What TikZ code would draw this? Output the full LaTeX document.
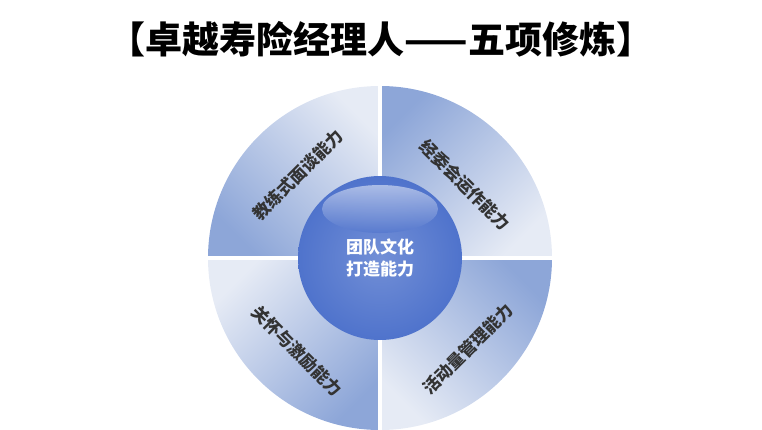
\documentclass[tikz,border=0pt]{standalone}
\usepackage{fontspec}
\newfontfamily\cjk{Noto Sans CJK SC}
\usetikzlibrary{positioning}
\definecolor{qdark}{HTML}{8DA6D8}
\definecolor{qlight}{HTML}{E6EBF5}
\definecolor{hubblue}{HTML}{4F73CC}
\tikzset{
  quadlabel/.style={font=\cjk\bfseries\fontsize{17}{17}\selectfont,text=black!80},
  hublabel/.style={font=\cjk\bfseries\fontsize{17}{22}\selectfont,text=white,align=center}
}
\begin{document}
\begin{tikzpicture}[x=1pt,y=1pt]
\useasboundingbox (0,0) rectangle (762,429);
%Title
\node[font=\cjk\bfseries\fontsize{37}{37}\selectfont] (title) at (381,390) {【卓越寿险经理人——五项修炼】};
%Quadrants
\coordinate (hub) at (380,171);
\shade[top color=qlight,bottom color=qdark,shading angle=-45] (hub) -- ++(-172,0) arc (180:90:172) -- cycle;
\shade[top color=qlight,bottom color=qdark,shading angle=-135] (hub) -- ++(0,172) arc (90:0:172) -- cycle;
\shade[top color=qlight,bottom color=qdark,shading angle=135] (hub) -- ++(172,0) arc (0:-90:172) -- cycle;
\shade[top color=qlight,bottom color=qdark,shading angle=45] (hub) -- ++(0,-172) arc (270:180:172) -- cycle;
\draw[white,line width=4pt] (hub) ++(-176,0) -- ++(352,0);
\draw[white,line width=4pt] (hub) ++(0,-176) -- ++(0,352);
%Hub
\shade[inner color=hubblue!80,outer color=hubblue] (hub) circle (82);
\shade[top color=white!85!hubblue,bottom color=hubblue,opacity=0.6] (380,220) ellipse (58 and 24);
\node[hublabel] (hubtext) at (hub) {团队文化\\打造能力};
%Labels
\node[quadlabel,rotate=45] (coach) at (298,254) {教练式面谈能力};
\node[quadlabel,rotate=-45] (committee) at (465,244) {经委会运作能力};
\node[quadlabel,rotate=-45] (care) at (297,78) {关怀与激励能力};
\node[quadlabel,rotate=45] (activity) at (468,80) {活动量管理能力};
\end{tikzpicture}
\end{document}
